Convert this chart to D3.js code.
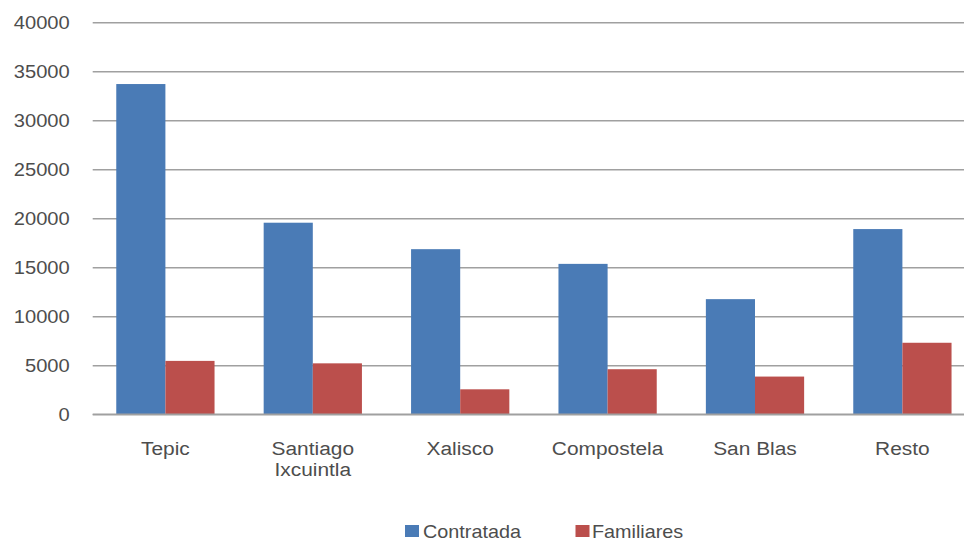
<!DOCTYPE html>
<html>
<head>
<meta charset="utf-8">
<script src="https://cdn.jsdelivr.net/npm/d3@7"></script>
<style>
  html, body { margin: 0; padding: 0; background: #fff; }
  svg { display: block; }
  text { font-family: "Liberation Sans", Arial, sans-serif; fill: #4d4d4d; }
</style>
</head>
<body>
<svg id="chart" width="964" height="540"></svg>
<script>
const categories = ["Tepic", "Santiago Ixcuintla", "Xalisco", "Compostela", "San Blas", "Resto"];
const categoryLines = [["Tepic"], ["Santiago", "Ixcuintla"], ["Xalisco"], ["Compostela"], ["San Blas"], ["Resto"]];
const seriesNames = ["Contratada", "Familiares"];
const contratada = [33700, 19550, 16850, 15350, 11750, 18900];
const familiares = [5450, 5200, 2550, 4600, 3850, 7300];
const yTicks = [0, 5000, 10000, 15000, 20000, 25000, 30000, 35000, 40000];
const colors = ["#4a7bb6", "#bb4f4c"];

const svg = d3.select("#chart");
const plotLeft = 92.7, plotRight = 977, plotTop = 22.3, plotBottom = 414.3;
const sx = 1.1; // horizontal text stretch

const x0 = d3.scaleBand().domain(categories).range([91.7, 976.1]).paddingInner(1/3).paddingOuter(1/6);
const x1 = d3.scaleBand().domain(seriesNames).range([0, x0.bandwidth()]);
const y = d3.scaleLinear().domain([0, 40000]).range([plotBottom, plotTop]);
const color = d3.scaleOrdinal().domain(seriesNames).range(colors);

// grid + y axis
const yAxis = d3.axisLeft(y).tickValues(yTicks).tickSize(-(plotRight - plotLeft)).tickPadding(0).tickFormat(d3.format("d"));
const gy = svg.append("g").attr("transform", `translate(${plotLeft},0)`).call(yAxis);
gy.select(".domain").remove();
gy.selectAll(".tick line").attr("stroke", "#a0a0a0").attr("stroke-width", 1.6);
gy.selectAll(".tick text")
  .attr("x", null)
  .attr("dy", "0.36em")
  .attr("transform", `translate(-23,0) scale(1.15,1)`)
  .style("font-size", "17.5px")
  .style("fill", "#4d4d4d")
  .style("font-family", '"Liberation Sans", Arial, sans-serif');

// bars
const rows = categories.map((c, i) => ({ cat: c, vals: [contratada[i], familiares[i]] }));
const groups = svg.append("g").selectAll("g").data(rows).join("g")
  .attr("transform", d => `translate(${x0(d.cat)},0)`);
groups.selectAll("rect").data(d => d.vals.map((v, j) => ({ key: seriesNames[j], v })))
  .join("rect")
  .attr("x", d => x1(d.key))
  .attr("width", x1.bandwidth())
  .attr("y", d => y(d.v))
  .attr("height", d => y(0) - y(d.v))
  .attr("fill", d => color(d.key));

// baseline redraw over bars
svg.append("line").attr("x1", plotLeft).attr("x2", plotRight)
  .attr("y1", y(0)).attr("y2", y(0)).attr("stroke", "#a0a0a0").attr("stroke-width", 1.6);

// category labels
const catG = svg.append("g");
categories.forEach((c, i) => {
  const cx = x0(c) + x0.bandwidth() / 2;
  const t = catG.append("text")
    .attr("transform", `translate(${cx},455) scale(${sx},1)`)
    .attr("text-anchor", "middle")
    .style("font-size", "19px");
  categoryLines[i].forEach((line, k) => {
    t.append("tspan").attr("x", 0).attr("y", k * 21).text(line);
  });
});

// legend
const legendItems = [{ name: seriesNames[0], sq: 405, tx: 423 }, { name: seriesNames[1], sq: 575.5, tx: 592 }];
const lg = svg.append("g");
legendItems.forEach(it => {
  lg.append("rect").attr("x", it.sq).attr("y", 525).attr("width", 14).attr("height", 12).attr("fill", color(it.name));
  lg.append("text").attr("transform", `translate(${it.tx},537.5) scale(${sx},1)`)
    .style("font-size", "18px").text(it.name);
});
</script>
</body>
</html>
